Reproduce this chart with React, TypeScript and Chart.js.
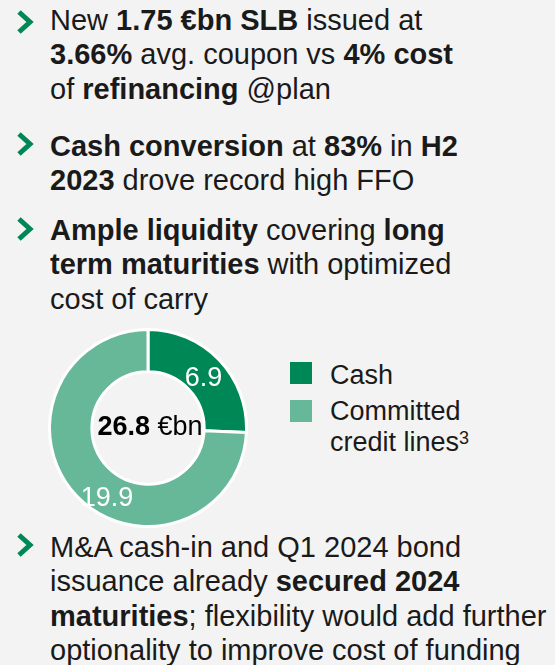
import React, { useEffect, useRef } from "react";
import { Chart, registerables } from "chart.js";

Chart.register(...registerables);

const categories = ["Cash", "Committed credit lines"];
const footnotes = ["", "3"];
const values = [6.9, 19.9];
const unit = "€bn";
const colors = ["#008756", "#66b899"];
const BG = "#f3f3f3";
const INK = "#1a1a1a";
const FONT = "'Liberation Sans', Arial, sans-serif";
const FS = 27;
const BODY_FS = 29;

const labelPlugin = {
  id: "donutLabels",
  afterDatasetsDraw(chart: any, _args: any, opts: any) {
    const ctx = chart.ctx;
    const meta = chart.getDatasetMeta(0);
    const data = chart.data.datasets[0].data as number[];
    ctx.save();
    ctx.textAlign = "center";
    ctx.textBaseline = "middle";
    ctx.fillStyle = "#ffffff";
    ctx.font = `${FS}px ${FONT}`;
    meta.data.forEach((arc: any, i: number) => {
      const p = arc.getProps(["startAngle", "endAngle", "innerRadius", "outerRadius", "x", "y"], true);
      const f = (opts.fracs && opts.fracs[i]) ?? 0.5;
      const a = p.startAngle + f * (p.endAngle - p.startAngle);
      const r = (p.innerRadius + p.outerRadius) / 2 + ((opts.rOff && opts.rOff[i]) ?? 0);
      ctx.fillText(String(data[i].toFixed(1)), p.x + Math.cos(a) * r, p.y + Math.sin(a) * r);
    });
    const total = data.reduce((s, v) => s + v, 0);
    const first = meta.data[0];
    const cx = first.x;
    const cy = first.y;
    const boldTxt = total.toFixed(1);
    const normTxt = " " + unit;
    ctx.font = `bold ${FS}px ${FONT}`;
    const w1 = ctx.measureText(boldTxt).width;
    ctx.font = `${FS}px ${FONT}`;
    const w2 = ctx.measureText(normTxt).width;
    const x0 = cx + 2 - (w1 + w2) / 2;
    ctx.textAlign = "left";
    ctx.fillStyle = "#000000";
    ctx.font = `bold ${FS}px ${FONT}`;
    ctx.fillText(boldTxt, x0, cy);
    ctx.font = `${FS}px ${FONT}`;
    ctx.fillText(normTxt, x0 + w1, cy);
    ctx.restore();
  },
};

function Chevron({ top }: { top: number }) {
  return (
    <svg
      width={18}
      height={26}
      style={{ position: "absolute", left: 16, top }}
      viewBox="0 0 18 26"
    >
      <polyline
        points="3,3 14,13 3,23"
        fill="none"
        stroke="#008756"
        strokeWidth={5}
        strokeLinejoin="miter"
      />
    </svg>
  );
}

const textStyle: React.CSSProperties = {
  position: "absolute",
  left: 50,
  margin: 0,
  fontFamily: FONT,
  fontSize: BODY_FS,
  lineHeight: "34.5px",
  color: INK,
  whiteSpace: "nowrap",
};

export default function App() {
  const canvasRef = useRef<HTMLCanvasElement | null>(null);

  useEffect(() => {
    document.body.style.margin = "0";
    const chart = new Chart(canvasRef.current as HTMLCanvasElement, {
      type: "doughnut",
      data: {
        labels: categories,
        datasets: [
          {
            data: values,
            backgroundColor: colors,
            borderColor: "#ffffff",
            borderWidth: 3,
          },
        ],
      },
      options: {
        responsive: false,
        animation: false,
        cutout: "57%",
        layout: { padding: 0 },
        plugins: {
          legend: { display: false },
          tooltip: { enabled: false },
          donutLabels: { fracs: [0.52, 0.44], rOff: [-3, 4] },
        } as any,
      },
      plugins: [labelPlugin],
    });
    return () => chart.destroy();
  }, []);

  return (
    <div
      style={{
        position: "absolute",
        left: 0,
        top: 0,
        width: 555,
        height: 665,
        overflow: "hidden",
        background: BG,
      }}
    >
      <Chevron top={9} />
      <div style={{ ...textStyle, top: 2.7 }}>
        New <b>1.75 €bn SLB</b> issued at
        <br />
        <b>3.66%</b> avg. coupon vs <b>4% cost</b>
        <br />
        of <b>refinancing</b> @plan
      </div>

      <Chevron top={131} />
      <div style={{ ...textStyle, top: 128.7 }}>
        <b>Cash conversion</b> at <b>83%</b> in <b>H2</b>
        <br />
        <b>2023</b> drove record high FFO
      </div>

      <Chevron top={216} />
      <div style={{ ...textStyle, top: 212.7 }}>
        <b>Ample liquidity</b> covering <b>long</b>
        <br />
        <b>term maturities</b> with optimized
        <br />
        cost of carry
      </div>

      <canvas
        ref={canvasRef}
        width={200}
        height={200}
        style={{ position: "absolute", left: 48, top: 328, width: 200, height: 200 }}
      />

      {categories.map((c, i) => (
        <div key={c}>
          <div
            style={{
              position: "absolute",
              left: 290,
              top: i === 0 ? 362 : 400,
              width: 22,
              height: 22,
              background: colors[i],
            }}
          />
          <div
            style={{
              position: "absolute",
              left: 330,
              top: i === 0 ? 360 : 396,
              fontFamily: FONT,
              fontSize: FS,
              lineHeight: "31px",
              color: INK,
              width: 200,
              whiteSpace: "nowrap",
            }}
          >
            {i === 0 ? c : (
              <>
                Committed
                <br />
                credit lines
                <sup style={{ fontSize: 18, verticalAlign: "7px", lineHeight: 0 }}>{footnotes[i]}</sup>
              </>
            )}
          </div>
        </div>
      ))}

      <Chevron top={532} />
      <div style={{ ...textStyle, top: 529.7 }}>
        M&amp;A cash-in and Q1 2024 bond
        <br />
        issuance already <b>secured 2024</b>
        <br />
        <b>maturities</b>; flexibility would add further
        <br />
        optionality to improve cost of funding
      </div>
    </div>
  );
}
